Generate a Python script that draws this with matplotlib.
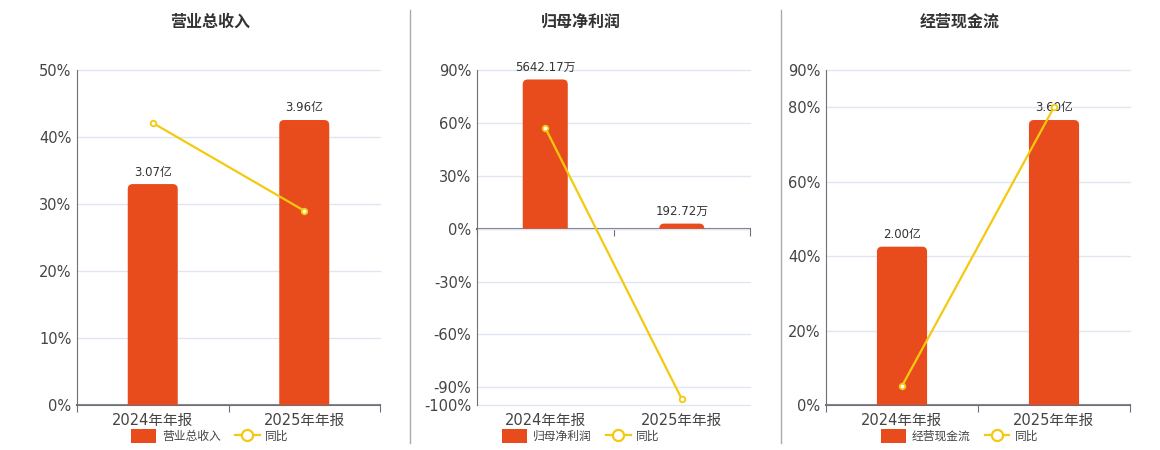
import matplotlib
matplotlib.use("Agg")
import matplotlib.pyplot as plt
from matplotlib.patches import PathPatch, Patch
from matplotlib.path import Path
from matplotlib.lines import Line2D
import numpy as np

plt.rcParams['font.family'] = ['DejaVu Sans', 'Noto Sans CJK SC']

# data
periods = ["2024年年报", "2025年年报"]
titles = ["营业总收入", "归母净利润", "经营现金流"]

revenue = [3.07, 3.96]          # 亿
revenue_labels = ["3.07亿", "3.96亿"]
revenue_yoy = [42.1, 28.99]     # %

profit = [5642.17, 192.72]      # 万
profit_labels = ["5642.17万", "192.72万"]
profit_yoy = [57.2, -96.58]

cashflow = [2.00, 3.60]         # 亿
cashflow_labels = ["2.00亿", "3.60亿"]
cashflow_yoy = [5.1, 80.0]

# styles
BAR_C = "#E84C1C"
LINE_C = "#F5C90F"
AXIS_C = "#6E7079"
GRID_C = "#E0E6F1"
TEXT_C = "#333333"

W, H = 1160, 450
fig = plt.figure(figsize=(W / 100, H / 100), dpi=100)


def px_rect(left, right, top, bottom):
    return [left / W, 1 - bottom / H, (right - left) / W, (bottom - top) / H]


def round_top_bars(ax, rects, radius_px=5):
    # replace the plain bar rectangles with paths that have rounded top corners
    pos = ax.get_position()
    x0, x1 = ax.get_xlim()
    y0, y1 = ax.get_ylim()
    xpp = (x1 - x0) / (pos.width * W)
    ypp = (y1 - y0) / (pos.height * H)
    for r in rects:
        bx, by, bw, bh = r.get_x(), r.get_y(), r.get_width(), r.get_height()
        rpx = min(radius_px, abs(bh) / ypp)
        rx, ry = rpx * xpp, rpx * ypp
        top = by + bh
        verts = [(bx, by), (bx, top - ry), (bx, top), (bx + rx, top),
                 (bx + bw - rx, top), (bx + bw, top), (bx + bw, top - ry),
                 (bx + bw, by), (bx, by)]
        codes = [Path.MOVETO, Path.LINETO, Path.CURVE3, Path.CURVE3,
                 Path.LINETO, Path.CURVE3, Path.CURVE3, Path.LINETO, Path.CLOSEPOLY]
        ax.add_patch(PathPatch(Path(verts, codes), facecolor=r.get_facecolor(),
                               edgecolor="none", zorder=2))
        r.remove()


def panel(rect, bars, labels, yoy, ylim, yticks, bar_lim, title, cx):
    ax = fig.add_axes(rect)
    ax.set_xlim(-0.5, 1.5)
    ax.set_ylim(*ylim)
    ax.set_yticks(yticks)
    ax.set_yticklabels(["%d%%" % t for t in yticks])
    ax.yaxis.grid(True, color=GRID_C, lw=1)
    for t, gl in zip(yticks, ax.get_ygridlines()):
        if t != 0:
            gl.set_clip_on(False)
    ax.set_axisbelow(True)
    for s in ["top", "right", "bottom"]:
        ax.spines[s].set_visible(False)
    ax.spines["left"].set_color(AXIS_C)
    ax.tick_params(axis="y", length=0, labelsize=10.5, colors="#444444", pad=4)
    ax.set_xticks([0, 1])
    ax.set_xticklabels(periods)
    ax.tick_params(axis="x", length=0, labelsize=10.5, colors="#444444", pad=6)

    # category axis line sits at zero
    zfrac = (0 - ylim[0]) / (ylim[1] - ylim[0])
    sx = ax.secondary_xaxis(zfrac)
    sx.set_xticks([-0.5, 0.5, 1.5])
    sx.set_xticklabels(["", "", ""])
    for s in sx.spines.values():
        s.set_color(AXIS_C)
        s.set_linewidth(1.5)
    sx.tick_params(axis="x", direction="in" if zfrac > 0.5 else "out",
                   length=5, color=AXIS_C)

    # bars on their own hidden scale
    axb = ax.twinx()
    axb.set_ylim(*bar_lim)
    axb.set_xlim(-0.5, 1.5)
    axb.axis("off")
    x = np.arange(len(bars))
    rects = axb.bar(x, bars, width=0.33, color=BAR_C)
    round_top_bars(axb, rects)
    for i, v in enumerate(bars):
        axb.annotate(labels[i], (x[i], v), xytext=(0, 4), textcoords="offset points",
                     ha="center", va="bottom", fontsize=8.5, color=TEXT_C)

    # yoy line
    axl = ax.twinx()
    axl.set_ylim(*ylim)
    axl.set_xlim(-0.5, 1.5)
    axl.axis("off")
    axl.plot(x, yoy, color=LINE_C, lw=1.6, marker="o", markersize=4,
             markerfacecolor="white", markeredgecolor=LINE_C, markeredgewidth=1.3, zorder=3)

    fig.text(cx / W, 1 - 22 / H, title, ha="center", va="center",
             fontsize=11.5, fontweight="bold", color=TEXT_C)
    handles = [Patch(facecolor=BAR_C, edgecolor="none"),
               Line2D([], [], color=LINE_C, lw=1.6, marker="o", markersize=8,
                      markerfacecolor="white", markeredgecolor=LINE_C, markeredgewidth=1.6)]
    fig.legend(handles, [title, "同比"], loc="center", ncol=2, frameon=False,
               bbox_to_anchor=(cx / W, 1 - 436 / H), fontsize=8.5,
               handlelength=2.1, handleheight=1.4, columnspacing=1.2,
               handletextpad=0.5, labelcolor="#444444")


panel(px_rect(77, 380, 70, 405), revenue, revenue_labels, revenue_yoy,
      (0, 50), [0, 10, 20, 30, 40, 50], (0, 4.655), titles[0], 210)
panel(px_rect(477, 750, 70, 405), profit, profit_labels, profit_yoy,
      (-100, 90), [-100, -90, -60, -30, 0, 30, 60, 90], (-6000 * 100 / 90, 6000), titles[1], 581)
panel(px_rect(826, 1130, 70, 405), cashflow, cashflow_labels, cashflow_yoy,
      (0, 90), [0, 20, 40, 60, 80, 90], (0, 4.232), titles[2], 960)

# panel separators
for xs in [410, 781]:
    fig.add_artist(Line2D([xs / W, xs / W], [1 - 443 / H, 1 - 10 / H],
                          color="#AAAAAA", lw=1))

fig.savefig("out.png", dpi=100)
